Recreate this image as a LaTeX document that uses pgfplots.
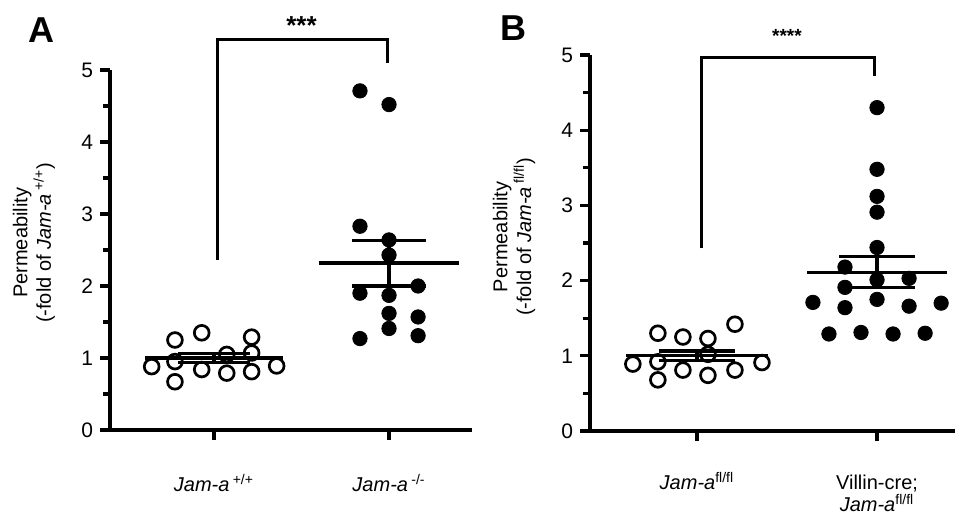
\documentclass[border=0pt]{standalone}
\usepackage{pgfplots}
\pgfplotsset{compat=1.18}
\usepackage{fontspec}
\setmainfont{Liberation Sans}
\begin{document}
\begin{tikzpicture}
\useasboundingbox (0,0) rectangle (477.5pt,257pt);
\pgfplotsset{
 panel/.style={
  scale only axis,
  axis x line*=bottom, axis y line*=left,
  axis line style={line width=1.6pt, -},
  ymin=0, ymax=5, ytick={0,1,2,3,4,5}, minor y tick num=1,
  tick align=outside, tick style={line width=1.6pt, black},
  major tick length=5pt, minor tick length=3.5pt,
  xtick={0,1}, clip=false,
  /pgf/number format/assume math mode=true,
  yticklabel style={font=\fontsize{10.5}{12}\selectfont},
  xticklabel style={font=\fontsize{10}{11}\selectfont, align=center, anchor=base},
  ylabel style={font=\fontsize{10}{9.5}\selectfont, align=center, anchor=center},
  xmin=-0.594,
 },
 open/.style={only marks, mark=o, mark size=3.7pt, mark options={line width=1.35pt, draw=black, fill=white}},
 filled/.style={only marks, mark=*, mark size=3.6pt, mark options={draw=black, fill=black, line width=0.4pt}},
 bar/.style={black, line width=1.6pt, mark=none, line join=miter},
}
% Panel A
\begin{axis}[panel, at={(55pt,42pt)}, anchor=south west, width=181pt, height=180pt, xmax=1.474,
  xticklabel style={yshift=-26pt},
  xticklabels={{\textit{Jam-a}\,\textsuperscript{+/+}}, {\textit{Jam-a}\,\textsuperscript{-/-}}},
  ylabel={Permeability\\(-fold of \textit{Jam-a}\,\textsuperscript{+/+})},
  ylabel style={at={(axis description cs:-0.21,0.52)}}]
\addplot[bar, unbounded coords=jump] coordinates {(-0.394,1.0) (0.394,1.0) (nan,nan) (-0.206,1.06) (0.206,1.06) (nan,nan) (-0.206,0.94) (0.206,0.94) (nan,nan) (0,0.94) (0,1.06)};
\addplot[bar, unbounded coords=jump] coordinates {(0.6,2.32) (1.4,2.32) (nan,nan) (0.79,2.63) (1.21,2.63) (nan,nan) (0.79,2.00) (1.21,2.00) (nan,nan) (1,2.00) (1,2.63)};
\addplot[open] coordinates {(-0.356,0.88) (-0.223,1.25) (-0.223,0.95) (-0.223,0.67) (-0.070,1.35) (-0.070,0.84) (0.073,1.05) (0.073,0.79) (0.215,1.29) (0.215,1.07) (0.215,0.81) (0.358,0.89)};
\addplot[filled] coordinates {(0.834,4.71) (1.0,4.52) (0.834,2.83) (1.0,2.64) (1.0,2.43) (0.834,1.90) (1.0,1.87) (1.166,2.00) (1.0,1.62) (1.166,1.57) (1.0,1.41) (0.834,1.27) (1.166,1.31)};
\addplot[bar] coordinates {(0.02,2.36) (0.02,5.42) (0.99,5.42) (0.99,5.10)};
\node[anchor=base, font=\fontsize{13}{13}\selectfont\bfseries] at (axis cs:0.5,5.49) {***};
\end{axis}
% Panel B
\begin{axis}[panel, at={(295pt,41.5pt)}, anchor=south west, width=182.5pt, height=188pt, xmax=1.433,
  xticklabel style={yshift=-35.5pt},
  xticklabels={{\textit{Jam-a}\textsuperscript{fl/fl}\\\mbox{}}, {Villin-cre;\\\textit{Jam-a}\textsuperscript{fl/fl}}},
  ylabel={Permeability\\(-fold of \textit{Jam-a}\,\textsuperscript{fl/fl})},
  ylabel style={at={(axis description cs:-0.208,0.516)}}]
\addplot[open] coordinates {(-0.356,0.89) (-0.217,1.30) (-0.217,0.92) (-0.217,0.68) (-0.078,1.25) (-0.078,0.81) (0.061,1.23) (0.061,1.02) (0.061,0.74) (0.211,1.42) (0.211,0.81) (0.361,0.91)};
\addplot[bar, unbounded coords=jump] coordinates {(-0.394,1.0) (0.394,1.0) (nan,nan) (-0.21,1.065) (0.21,1.065) (nan,nan) (-0.21,0.94) (0.21,0.94) (nan,nan) (0,0.94) (0,1.065)};
\addplot[bar, unbounded coords=jump] coordinates {(0.61,2.11) (1.39,2.11) (nan,nan) (0.79,2.32) (1.21,2.32) (nan,nan) (0.79,1.91) (1.21,1.91) (nan,nan) (1,1.91) (1,2.32)};
\addplot[filled] coordinates {(1,4.30) (1,3.48) (1,3.12) (1,2.91) (1,2.44) (0.822,2.18) (0.822,1.91) (1,2.01) (1.178,2.03) (0.644,1.71) (0.822,1.64) (1,1.75) (1.178,1.66) (1.356,1.70) (0.733,1.29) (0.911,1.31) (1.089,1.29) (1.267,1.30)};
\addplot[bar] coordinates {(0.025,2.43) (0.025,4.97) (0.985,4.97) (0.985,4.72)};
\node[anchor=base, font=\fontsize{9.5}{9.5}\selectfont\bfseries] at (axis cs:0.5,5.17) {****};
\end{axis}
\node[font=\fontsize{18}{18}\selectfont\bfseries] at (20.5pt,242pt) {A};
\node[font=\fontsize{18}{18}\selectfont\bfseries] at (256.5pt,243pt) {B};
\end{tikzpicture}
\end{document}
